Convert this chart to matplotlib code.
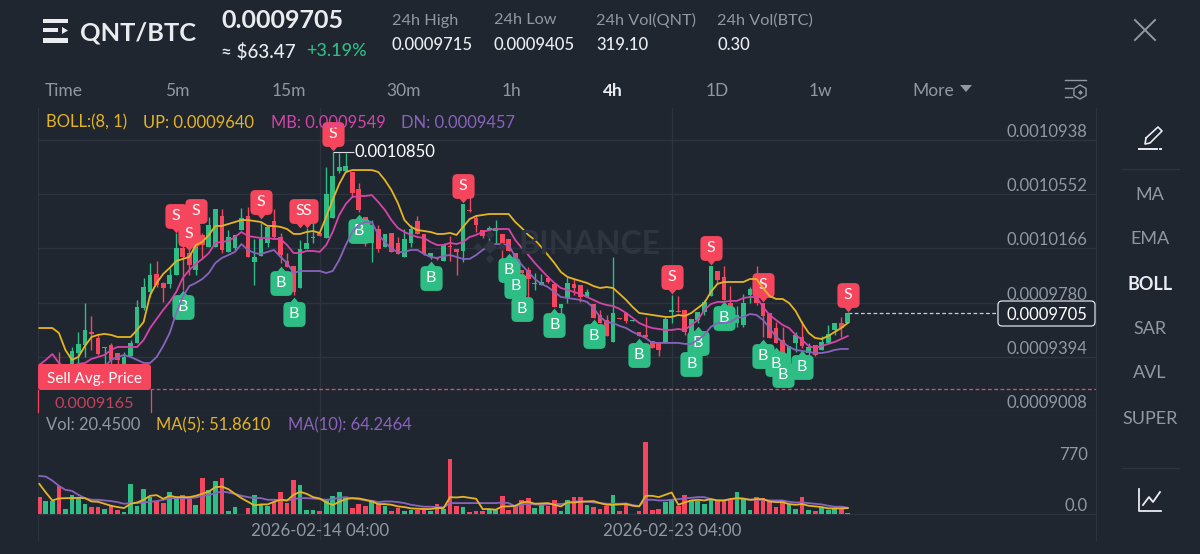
#!/usr/bin/env python3
"""QNT/BTC 4h candle chart, dark exchange app screen"""

import numpy as np
import matplotlib
matplotlib.use("Agg")
import matplotlib.pyplot as plt
from matplotlib.path import Path
from matplotlib.patches import Rectangle, FancyBboxPatch, Polygon

plt.rcParams['font.family'] = ['Lato', 'DejaVu Sans']

# prices are in 1e-7 BTC
opens = [9315, 9229, 9258, 9329, 9258, 9343, 9421, 9478, 9571, 9528, 9457, 9478, 9421, 9336, 9400, 9493, 9742, 9856, 9984, 9920, 9913, 9977, 10169, 10133, 10012, 10262, 10176, 10176, 10397, 10141, 10169, 10297, 10397, 10069, 10112, 10205, 10361, 10247, 10076, 10041, 9884, 10162, 10240, 10276, 10240, 10383, 10717, 10717, 10710, 10589, 10390, 10205, 10304, 10176, 10276, 10205, 10105, 10205, 10361, 10269, 10105, 10098, 10076, 10183, 10162, 10148, 10440, 10383, 10297, 10297, 10290, 10269, 10233, 10133, 10012, 10012, 9913, 9906, 9955, 9913, 9742, 9813, 9913, 9906, 9820, 9770, 9692, 9656, 9500, 9671, 9706, 9649, 9571, 9550, 9507, 9493, 9493, 9713, 9720, 9728, 9550, 9656, 9713, 9827, 10005, 9963, 9777, 9635, 9621, 9834, 9920, 9777, 9706, 9599, 9514, 9350, 9493, 9535, 9421, 9478, 9443, 9493, 9585, 9635, 9635]
closes = [9243, 9300, 9315, 9243, 9322, 9436, 9486, 9585, 9557, 9414, 9464, 9372, 9372, 9393, 9493, 9749, 9891, 9977, 9906, 9884, 9977, 10169, 10105, 10048, 10190, 10190, 10333, 10447, 10155, 10247, 10262, 10383, 10105, 10105, 10233, 10319, 10247, 10119, 10034, 9856, 10162, 10205, 10247, 10254, 10554, 10682, 10746, 10753, 10561, 10440, 10311, 10333, 10162, 10269, 10141, 10126, 10233, 10304, 10269, 10126, 10133, 10091, 10190, 10176, 10141, 10482, 10432, 10333, 10254, 10311, 10311, 10205, 10148, 10098, 9991, 9948, 9920, 9927, 9927, 9749, 9770, 9920, 9884, 9820, 9856, 9671, 9635, 9542, 9706, 9664, 9649, 9656, 9542, 9535, 9457, 9443, 9664, 9728, 9713, 9571, 9664, 9713, 9785, 10041, 9941, 9799, 9742, 9692, 9777, 9877, 9777, 9685, 9528, 9493, 9421, 9471, 9550, 9471, 9464, 9407, 9500, 9557, 9635, 9599, 9705]
highs = [9336, 9315, 9329, 9429, 9329, 9464, 9571, 9777, 9685, 9550, 9464, 9493, 9421, 9429, 9514, 9799, 9955, 10062, 10076, 9927, 10027, 10276, 10205, 10155, 10226, 10276, 10390, 10447, 10447, 10297, 10262, 10454, 10461, 10233, 10347, 10319, 10447, 10276, 10133, 10041, 10226, 10311, 10347, 10276, 10746, 10850, 10845, 10845, 10710, 10632, 10390, 10368, 10333, 10269, 10276, 10247, 10304, 10333, 10397, 10269, 10133, 10098, 10205, 10254, 10162, 10482, 10525, 10404, 10297, 10326, 10368, 10269, 10233, 10133, 10012, 10034, 9991, 9984, 9970, 9913, 9770, 9963, 9948, 9906, 9877, 9770, 9728, 9692, 10105, 9671, 9713, 9656, 9571, 9678, 9507, 9493, 9678, 9834, 9827, 9728, 9664, 9713, 9799, 10041, 10005, 10041, 9898, 9756, 9842, 9891, 10041, 9777, 9706, 9642, 9607, 9471, 9571, 9649, 9493, 9478, 9542, 9621, 9635, 9678, 9712]
lows = [9215, 9215, 9243, 9215, 9243, 9315, 9350, 9393, 9443, 9407, 9336, 9343, 9315, 9300, 9400, 9493, 9728, 9820, 9891, 9785, 9884, 9977, 9870, 9977, 9977, 10098, 10176, 10176, 10133, 10141, 10155, 10297, 10105, 9906, 10112, 10176, 10233, 10062, 10034, 9834, 9884, 10162, 10205, 10254, 10240, 10383, 10703, 10710, 10532, 10425, 10183, 10069, 10141, 10176, 10141, 10126, 10105, 10176, 10269, 10119, 10091, 10084, 10076, 10076, 9977, 10069, 10425, 10283, 10240, 10197, 10205, 10098, 10148, 10084, 9977, 9820, 9870, 9906, 9920, 9749, 9692, 9777, 9834, 9785, 9820, 9671, 9635, 9542, 9500, 9664, 9635, 9649, 9542, 9535, 9457, 9400, 9493, 9635, 9713, 9550, 9550, 9635, 9692, 9827, 9920, 9799, 9742, 9607, 9607, 9777, 9763, 9535, 9528, 9493, 9421, 9350, 9429, 9457, 9407, 9400, 9443, 9486, 9550, 9535, 9635]

boll_up = [9599, 9599, 9599, 9564, 9443, 9372, 9393, 9471, 9535, 9550, 9557, 9550, 9535, 9535, 9535, 9585, 9642, 9834, 9920, 9984, 10027, 10076, 10091, 10105, 10190, 10212, 10262, 10326, 10326, 10340, 10354, 10368, 10368, 10361, 10354, 10326, 10326, 10319, 10304, 10269, 10269, 10283, 10290, 10276, 10390, 10511, 10625, 10710, 10724, 10724, 10724, 10724, 10710, 10653, 10582, 10489, 10368, 10319, 10297, 10290, 10283, 10269, 10269, 10276, 10262, 10319, 10375, 10397, 10404, 10411, 10411, 10411, 10411, 10354, 10311, 10262, 10226, 10176, 10119, 10062, 9998, 9963, 9948, 9934, 9920, 9898, 9884, 9891, 9884, 9842, 9799, 9749, 9706, 9699, 9692, 9685, 9678, 9678, 9692, 9685, 9706, 9742, 9777, 9856, 9913, 9927, 9927, 9927, 9927, 9948, 9948, 9884, 9827, 9806, 9806, 9777, 9720, 9635, 9564, 9528, 9521, 9542, 9571, 9599, 9635]
boll_mb = [9336, 9372, 9414, 9350, 9315, 9329, 9343, 9350, 9379, 9393, 9407, 9443, 9464, 9464, 9464, 9464, 9514, 9599, 9664, 9728, 9785, 9856, 9955, 10012, 10055, 10091, 10133, 10205, 10212, 10219, 10247, 10283, 10254, 10247, 10240, 10240, 10233, 10233, 10190, 10133, 10133, 10148, 10148, 10141, 10190, 10283, 10404, 10482, 10532, 10539, 10539, 10546, 10496, 10440, 10368, 10311, 10283, 10262, 10247, 10240, 10212, 10190, 10190, 10205, 10197, 10212, 10247, 10262, 10283, 10297, 10304, 10304, 10304, 10226, 10169, 10119, 10062, 10012, 9963, 9920, 9884, 9870, 9856, 9842, 9820, 9799, 9777, 9763, 9756, 9735, 9706, 9671, 9635, 9614, 9599, 9592, 9585, 9585, 9592, 9585, 9621, 9656, 9728, 9770, 9785, 9785, 9792, 9792, 9813, 9820, 9820, 9749, 9692, 9656, 9621, 9599, 9550, 9514, 9471, 9457, 9471, 9486, 9500, 9521, 9542]
boll_dn = [9260, 9250, 9240, 9235, 9235, 9240, 9250, 9265, 9285, 9300, 9320, 9372, 9393, 9407, 9393, 9372, 9350, 9350, 9393, 9471, 9564, 9706, 9820, 9898, 9920, 9948, 9991, 10062, 10098, 10119, 10141, 10197, 10155, 10133, 10126, 10141, 10155, 10105, 10062, 9991, 10005, 10005, 10005, 10005, 9991, 10005, 10084, 10190, 10283, 10333, 10354, 10354, 10262, 10212, 10162, 10141, 10141, 10155, 10155, 10126, 10105, 10098, 10112, 10119, 10105, 10091, 10091, 10119, 10155, 10183, 10197, 10197, 10190, 10105, 10048, 9998, 9948, 9913, 9891, 9856, 9820, 9813, 9806, 9799, 9785, 9742, 9678, 9642, 9635, 9614, 9599, 9571, 9550, 9528, 9493, 9493, 9493, 9493, 9493, 9486, 9486, 9514, 9550, 9607, 9635, 9635, 9642, 9671, 9678, 9699, 9692, 9656, 9599, 9535, 9500, 9464, 9443, 9436, 9429, 9421, 9421, 9429, 9443, 9450, 9450]

volumes = [255, 190, 190, 425, 75, 290, 255, 155, 105, 110, 75, 125, 65, 35, 455, 120, 380, 255, 190, 165, 325, 255, 290, 225, 135, 540, 365, 505, 540, 50, 110, 5, 90, 280, 145, 125, 175, 325, 165, 515, 435, 65, 65, 45, 210, 275, 335, 255, 85, 155, 125, 205, 145, 125, 45, 95, 50, 60, 55, 75, 50, 150, 80, 830, 115, 110, 30, 50, 40, 80, 55, 275, 65, 115, 210, 245, 90, 135, 115, 205, 45, 205, 250, 255, 135, 100, 75, 115, 285, 40, 130, 5, 45, 1090, 55, 70, 185, 225, 125, 285, 205, 190, 155, 215, 190, 190, 225, 335, 225, 65, 250, 245, 205, 105, 195, 145, 75, 250, 65, 50, 105, 55, 75, 75, 20]
vol_ma5 = [455, 325, 205, 235, 240, 240, 245, 240, 190, 185, 155, 125, 105, 90, 155, 175, 215, 275, 285, 230, 275, 255, 255, 255, 275, 305, 340, 405, 415, 375, 305, 240, 185, 130, 145, 145, 185, 215, 205, 290, 335, 305, 255, 235, 175, 135, 185, 225, 240, 235, 215, 190, 150, 150, 140, 115, 105, 85, 80, 75, 75, 90, 90, 255, 250, 260, 245, 230, 75, 75, 65, 115, 115, 125, 175, 185, 155, 160, 165, 140, 115, 175, 175, 185, 190, 195, 165, 140, 140, 145, 150, 125, 115, 275, 275, 255, 290, 325, 140, 175, 205, 215, 205, 225, 205, 205, 225, 240, 230, 215, 225, 225, 190, 180, 180, 150, 140, 150, 125, 115, 105, 85, 85, 85, 90]
vol_ma10 = [575, 565, 505, 425, 365, 350, 290, 240, 215, 215, 205, 195, 180, 155, 165, 165, 175, 185, 195, 215, 235, 245, 240, 240, 250, 275, 285, 315, 340, 325, 305, 275, 255, 240, 240, 215, 215, 210, 205, 225, 240, 240, 235, 225, 215, 225, 245, 255, 235, 225, 205, 200, 180, 190, 190, 180, 165, 140, 125, 110, 110, 105, 100, 165, 165, 165, 165, 165, 165, 165, 165, 175, 165, 115, 145, 155, 145, 140, 145, 155, 150, 165, 190, 190, 185, 175, 165, 155, 155, 155, 160, 135, 120, 215, 215, 205, 205, 215, 225, 235, 245, 255, 255, 225, 205, 205, 225, 235, 235, 215, 215, 215, 205, 205, 205, 185, 175, 175, 165, 155, 145, 125, 110, 110, 95]

# buy and sell signals: candle index and the level of the badge
sell_idx = [21, 24, 23, 34, 40, 41, 45, 65, 97, 103, 111, 124]
sell_lvl = [10397, 10432, 10269, 10497, 10432, 10432, 10981, 10610, 9963, 10169, 9906, 9834]
buy_idx = [22, 37, 39, 49, 60, 72, 73, 74, 79, 85, 92, 100, 101, 105, 111, 113, 114, 117]
buy_lvl = [9749, 9920, 9699, 10290, 9955, 10012, 9898, 9735, 9621, 9542, 9407, 9343, 9493, 9671, 9400, 9343, 9265, 9322]

price_ticks = [9008, 9394, 9780, 10166, 10552, 10938]
price_labels = ['0.0009008', '0.0009394', '0.0009780', '0.0010166', '0.0010552', '0.0010938']
vol_ticks = [0, 770]
vol_labels = ['0.0', '770']
date_ticks = [43, 97]
date_labels = ['2026-02-14 04:00', '2026-02-23 04:00']
last_price = 9705
high_price = 10850
avg_sell = 9165

BG = '#1f2630'
GRID = '#2d343f'
GREEN = '#2ebd85'
RED = '#f6465d'
YELLOW = '#e6b422'
MAGENTA = '#d544a8'
PURPLE = '#8a63bd'
GRAY = '#8f98a3'
WHITE = '#eaecef'

W, H = 1200, 554


def px_axes(fig, left, top, right, bottom):
    return fig.add_axes([left / W, 1 - bottom / H, (right - left) / W, (bottom - top) / H])


def badge_path(tip_down=True):
    """Rounded badge with a small tip, centred on the body"""
    r = 0.22
    t = 0.56
    s = 1 if tip_down else -1
    verts = [(-0.5 + r, t), (0.5 - r, t), (0.5, t), (0.5, t - r), (0.5, -t + r), (0.5, -t),
             (0.5 - r, -t), (0.17, -t), (0, -0.76), (-0.17, -t), (-0.5 + r, -t), (-0.5, -t),
             (-0.5, -t + r), (-0.5, t - r), (-0.5, t), (-0.5 + r, t), (-0.5 + r, t)]
    codes = [Path.MOVETO, Path.LINETO, Path.CURVE3, Path.CURVE3, Path.LINETO, Path.CURVE3,
             Path.CURVE3, Path.LINETO, Path.LINETO, Path.LINETO, Path.LINETO, Path.CURVE3,
             Path.CURVE3, Path.LINETO, Path.CURVE3, Path.CURVE3, Path.CLOSEPOLY]
    return Path([(x, s * y) for x, y in verts], codes)


fig = plt.figure(figsize=(W / 100, H / 100), dpi=100, facecolor=BG)

# price panel
ax = px_axes(fig, 38, 108, 1096, 411)
ax.set_facecolor(BG)
x_left, x_right = -0.2, 162.07
ax.set_xlim(x_left, x_right)
ax.set_ylim(9008, 11166)

x = np.arange(len(opens))
o, c, h, l = map(np.array, (opens, closes, highs, lows))
up = c >= o
colors = np.where(up, GREEN, RED)
ax.vlines(x, l, h, colors=colors, linewidth=1.0, zorder=3)
ax.bar(x, np.maximum(np.abs(c - o), 7), bottom=np.minimum(o, c), width=0.72, color=colors, zorder=3)

ax.scatter(sell_idx, sell_lvl, s=590, marker=badge_path(True), color=RED, linewidths=0, zorder=4)
ax.scatter(buy_idx, buy_lvl, s=590, marker=badge_path(False), color=GREEN, linewidths=0, zorder=4)
for i, p in zip(sell_idx, sell_lvl):
    ax.text(i, p, 'S', color='white', fontsize=11.5, ha='center', va='center', zorder=4.5)
for i, p in zip(buy_idx, buy_lvl):
    ax.text(i, p, 'B', color='white', fontsize=11.5, ha='center', va='center', zorder=4.5)

ax.plot(x, boll_dn, color=PURPLE, linewidth=1.3, zorder=5)
ax.plot(x, boll_mb, color=MAGENTA, linewidth=1.3, zorder=5)
ax.plot(x, boll_up, color=YELLOW, linewidth=1.3, zorder=5)

ax.hlines(last_price, x[-1], 147, colors='#c9ced6', linewidth=0.9, linestyles=(0, (3, 2)), zorder=2)
ax.hlines(avg_sell, 17, x_right, colors=RED, linewidth=0.9, linestyles=(0, (3, 2)), zorder=2)

ax.hlines(high_price, 45, 48.2, colors='#d9dde3', linewidth=0.8, zorder=4)
ax.text(48.4, high_price, f'{high_price / 1e7:.7f}', color='white', fontsize=12, va='center', zorder=6)

ax.set_xticks(date_ticks)
ax.set_yticks(price_ticks)
ax.set_yticklabels(price_labels)
ax.yaxis.tick_right()
ax.tick_params(axis='x', length=0, labelbottom=False)
ax.tick_params(axis='y', length=0, pad=-6, labelcolor=GRAY, labelsize=12)
for t in ax.yaxis.get_major_ticks():
    t.label2.set(ha='right', va='bottom')
ax.grid(True, color=GRID, linewidth=1.0)
ax.set_axisbelow(True)
for name, sp in ax.spines.items():
    sp.set_visible(name in ('left', 'right'))
    sp.set_color(GRID)

# volume panel
ax_v = px_axes(fig, 38, 411, 1096, 540)
ax_v.set_facecolor(BG)
ax_v.set_xlim(x_left, x_right)
ax_v.set_ylim(-392, 1555)
ax_v.bar(x, volumes, width=0.72, color=colors, zorder=3)
ax_v.plot(x, vol_ma10, color=PURPLE, linewidth=1.3, zorder=4)
ax_v.plot(x, vol_ma5, color=YELLOW, linewidth=1.3, zorder=5)
ax_v.set_xticks(date_ticks)
ax_v.set_xticklabels(date_labels)
ax_v.set_yticks(vol_ticks)
ax_v.set_yticklabels(vol_labels)
ax_v.yaxis.tick_right()
ax_v.tick_params(axis='x', length=0, pad=-12, labelcolor=GRAY, labelsize=12.2)
ax_v.tick_params(axis='y', length=0, pad=-6, labelcolor=GRAY, labelsize=12)
for t in ax_v.yaxis.get_major_ticks():
    t.label2.set(ha='right', va='bottom')
ax_v.grid(True, color=GRID, linewidth=1.0)
ax_v.set_axisbelow(True)
ax_v.yaxis.get_major_ticks()[1].gridline.set_visible(False)
for name, sp in ax_v.spines.items():
    sp.set_visible(name in ('left', 'right'))
    sp.set_color(GRID)

# screen furniture, in pixel coordinates
ui = fig.add_axes([0, 0, 1, 1], zorder=5)
ui.set_xlim(0, W)
ui.set_ylim(H, 0)
ui.axis('off')
ui.patch.set_visible(False)


def label(px, py, s, color=GRAY, size=12, weight='normal', ha='left'):
    ui.text(px, py + 1.5, s, color=color, fontsize=size, fontweight=weight, ha=ha, va='center')


# header
for (x0, x1, y0, y1) in [(43, 68, 19, 23), (43, 58, 28, 32), (43, 68, 38, 43)]:
    ui.add_patch(Rectangle((x0, y0), x1 - x0, y1 - y0, color=WHITE, lw=0))
ui.add_patch(Polygon([(62, 27), (68, 30.5), (62, 34)], color=WHITE, lw=0))
label(80, 31, 'QNT/BTC', WHITE, 18.3, 'bold')
label(221, 19, '0.0009705', WHITE, 18, 'bold')
label(221, 50, '≈ $63.47', WHITE, 13.5, 'medium')
label(306, 50, '+3.19%', GREEN, 13, 'medium')
for px, head, val in [(392, '24h High', '0.0009715'), (494, '24h Low', '0.0009405'),
                      (596, '24h Vol(QNT)', '319.10'), (717, '24h Vol(BTC)', '0.30')]:
    label(px, 19, head, GRAY, 11.7)
    label(px, 43, val, WHITE, 12, 'medium')
ui.plot([1135, 1155], [20, 40], color=GRAY, lw=1.4)
ui.plot([1135, 1155], [40, 20], color=GRAY, lw=1.4)

# interval tabs
for px, s in [(45, 'Time'), (165, '5m'), (272, '15m'), (386, '30m'), (502, '1h'), (706, '1D'), (809, '1w'), (912, 'More')]:
    label(px, 89, s, GRAY, 12.5)
label(603, 89, '4h', WHITE, 12.5, 'bold')
ui.add_patch(Polygon([(960, 85), (972, 85), (966, 92)], color=GRAY, lw=0))

# settings icon
ui.plot([1065, 1086], [80, 80], color=GRAY, lw=1.0)
ui.plot([1065, 1072], [88, 88], color=GRAY, lw=1.0)
ui.plot([1065, 1072], [97, 97], color=GRAY, lw=1.0)
ang = np.deg2rad(np.arange(30, 390, 60))
ui.add_patch(Polygon(np.c_[1080 + 7 * np.cos(ang), 92 + 7 * np.sin(ang)], fill=False, ec=GRAY, lw=1.0))
ui.scatter([1080], [92], s=6, color=GRAY, marker='D', linewidths=0)

# indicator legends
label(46, 121, 'BOLL:(8, 1)', YELLOW, 12)
label(143, 121, 'UP: 0.0009640', YELLOW, 11.9)
label(271, 121, 'MB: 0.0009549', MAGENTA, 11.9)
label(401, 121, 'DN: 0.0009457', PURPLE, 11.9)
label(46, 424, 'Vol: 20.4500', GRAY, 11.9)
label(156, 424, 'MA(5): 51.8610', YELLOW, 11.9)
label(288, 424, 'MA(10): 64.2464', PURPLE, 11.9)

# watermark
ui.text(589, 245, 'BINANCE', color='#2e3540', fontsize=23, fontweight='bold', ha='center', va='center', zorder=0.5)
ui.scatter([490, 478, 502, 490, 490], [247, 247, 247, 235, 259], s=[50, 20, 20, 20, 20], marker='D', color='#2e3540', linewidths=0, zorder=0.5)

# average sell tag
ui.add_patch(Rectangle((38, 390), 113, 22, facecolor=BG, edgecolor='none'))
ui.plot([38, 38], [390, 412], color=RED, lw=0.9)
ui.plot([151, 151], [390, 412], color=RED, lw=0.9)
ui.add_patch(FancyBboxPatch((41, 367), 107, 20, boxstyle='round,pad=3,rounding_size=3', facecolor=RED, edgecolor='none'))
label(94.5, 377, 'Sell Avg. Price', 'white', 11, ha='center')
label(94.5, 402, '0.0009165', '#c9405a', 11.7, ha='center')

# last price tag
ui.add_patch(FancyBboxPatch((1001, 304), 91, 19, boxstyle='round,pad=3,rounding_size=4', facecolor=BG, edgecolor='#dfe2e6', lw=0.9))
label(1047, 313, '0.0009705', 'white', 12, ha='center')

# right side menu
ui.plot([1146, 1158, 1162, 1150, 1145, 1146], [138, 127, 131, 143, 144, 138], color=WHITE, lw=1.2)
ui.plot([1139, 1157], [149, 149], color=WHITE, lw=1.4)
ui.plot([1159.5, 1161], [149, 149], color=WHITE, lw=1.4)
ui.plot([1122, 1179], [169, 169], color=GRID, lw=1.0)
ui.plot([1122, 1179], [468, 468], color=GRID, lw=1.0)
for py, s in [(193, 'MA'), (238, 'EMA'), (328, 'SAR'), (372, 'AVL'), (417, 'SUPER')]:
    label(1150, py, s, GRAY, 13, ha='center')
label(1150, 283, 'BOLL', WHITE, 13, 'bold', ha='center')
ui.plot([1139, 1139, 1161], [489, 511, 511], color=WHITE, lw=1.3)
ui.plot([1143, 1149, 1153, 1160], [505, 497, 502, 492], color=WHITE, lw=1.3)

plt.savefig('out.png', dpi=100, facecolor=BG)
plt.close()
